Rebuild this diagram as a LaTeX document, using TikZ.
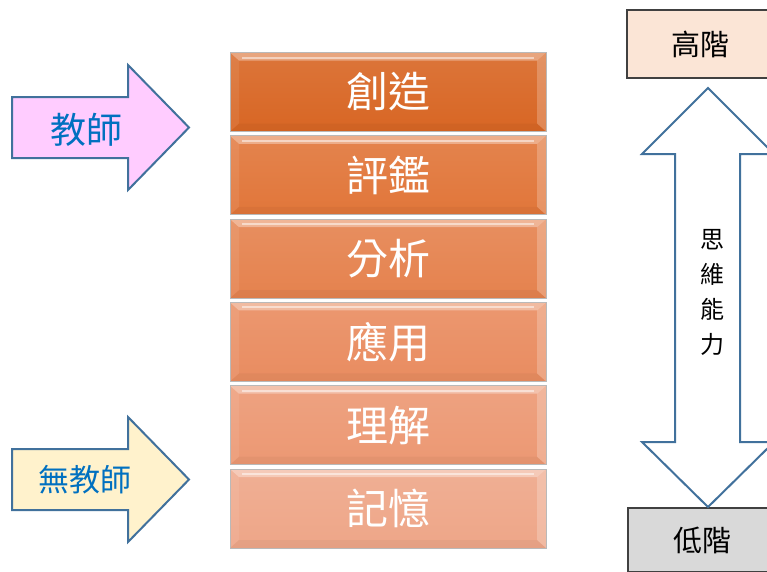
\documentclass[tikz,border=0pt]{standalone}
\usepackage{fontspec}
\newfontfamily\cjk{Noto Sans CJK TC}
\definecolor{arrowline}{RGB}{65,113,156}
\definecolor{labelblue}{RGB}{0,112,192}
\definecolor{teacherfill}{RGB}{255,204,255}
\definecolor{selffill}{RGB}{255,242,204}
\definecolor{highfill}{RGB}{251,229,214}
\definecolor{lowfill}{RGB}{217,217,217}
\definecolor{lvlA}{RGB}{216,102,36}
\definecolor{lvlB}{RGB}{225,118,58}
\definecolor{lvlC}{RGB}{229,130,78}
\definecolor{lvlD}{RGB}{233,140,96}
\definecolor{lvlE}{RGB}{236,152,115}
\definecolor{lvlF}{RGB}{238,166,136}
\tikzset{
  rank/.style = {draw=gray!55, line width=0.7pt, minimum width=316pt,
    minimum height=79pt, inner sep=0pt, text=white,
    font=\cjk\fontsize{42}{42}\selectfont,
    path picture={
      \fill[white, opacity=.35] (path picture bounding box.north west)
        -- (path picture bounding box.north east)
        -- ([xshift=-9pt,yshift=-8pt]path picture bounding box.north east)
        -- ([xshift=9pt,yshift=-8pt]path picture bounding box.north west) -- cycle;
      \draw[white, opacity=.5, line width=2pt]
        ([xshift=12pt,yshift=-5pt]path picture bounding box.north west)
        -- ([xshift=-12pt,yshift=-5pt]path picture bounding box.north east);
      \fill[white, opacity=.22] (path picture bounding box.north east)
        -- (path picture bounding box.south east)
        -- ([xshift=-9pt,yshift=8pt]path picture bounding box.south east)
        -- ([xshift=-9pt,yshift=-8pt]path picture bounding box.north east) -- cycle;
      \fill[white, opacity=.08] (path picture bounding box.north west)
        -- (path picture bounding box.south west)
        -- ([xshift=9pt,yshift=8pt]path picture bounding box.south west)
        -- ([xshift=9pt,yshift=-8pt]path picture bounding box.north west) -- cycle;
      \fill[black, opacity=.035] (path picture bounding box.south west)
        -- (path picture bounding box.south east)
        -- ([xshift=-9pt,yshift=8pt]path picture bounding box.south east)
        -- ([xshift=9pt,yshift=8pt]path picture bounding box.south west) -- cycle;
    }},
  blockarrow/.style = {draw=arrowline, line width=2pt, line join=miter},
  arrowtag/.style = {text=labelblue, inner sep=0pt},
  stage/.style = {draw=black!75, line width=1.4pt, inner sep=0pt,
    font=\cjk\fontsize{29}{29}\selectfont}
}
\begin{document}
\begin{tikzpicture}[x=1pt,y=-1pt]
\useasboundingbox (0,0) rectangle (767,571);
\clip (0,0) rectangle (767,571);
\fill[white] (0,0) rectangle (767,571);

% levels
\foreach \name/\word/\tone [count=\i from 0] in
  {create/創造/lvlA, evaluate/評鑑/lvlB, analyze/分析/lvlC,
   apply/應用/lvlD, understand/理解/lvlE, remember/記憶/lvlF}
  \node[rank, top color=\tone!90!white, bottom color=\tone] (\name)
    at (388, {92+83.3*\i}) {\word};

% left arrows
\draw[blockarrow, fill=teacherfill] (12,97) -- (128,97) -- (128,65)
  -- (189,127.5) -- (128,190) -- (128,158) -- (12,158) -- cycle;
\node[arrowtag, font=\cjk\fontsize{36}{36}\selectfont] (teacher)
  at (86,130) {教師};
\draw[blockarrow, fill=selffill] (12,449) -- (128,449) -- (128,417)
  -- (189,479.5) -- (128,542) -- (128,510) -- (12,510) -- cycle;
\node[arrowtag, font=\cjk\fontsize{31}{31}\selectfont] (noteacher)
  at (85,480) {無教師};

% right side
\node[stage, fill=highfill, minimum width=146pt, minimum height=68pt]
  (high) at (700,44) {高階};
\node[stage, fill=lowfill, minimum width=148pt, minimum height=64pt]
  (low) at (702,540) {低階};
\draw[blockarrow, fill=white] (708,88) -- (774,154) -- (740,154)
  -- (740,442) -- (774,442) -- (708,507) -- (642,442) -- (675,442)
  -- (675,154) -- (642,154) -- cycle;
\node[align=center, inner sep=0pt,
  font=\cjk\fontsize{24}{35}\selectfont] (ability) at (712,292)
  {思\\維\\能\\力};
\end{tikzpicture}
\end{document}
